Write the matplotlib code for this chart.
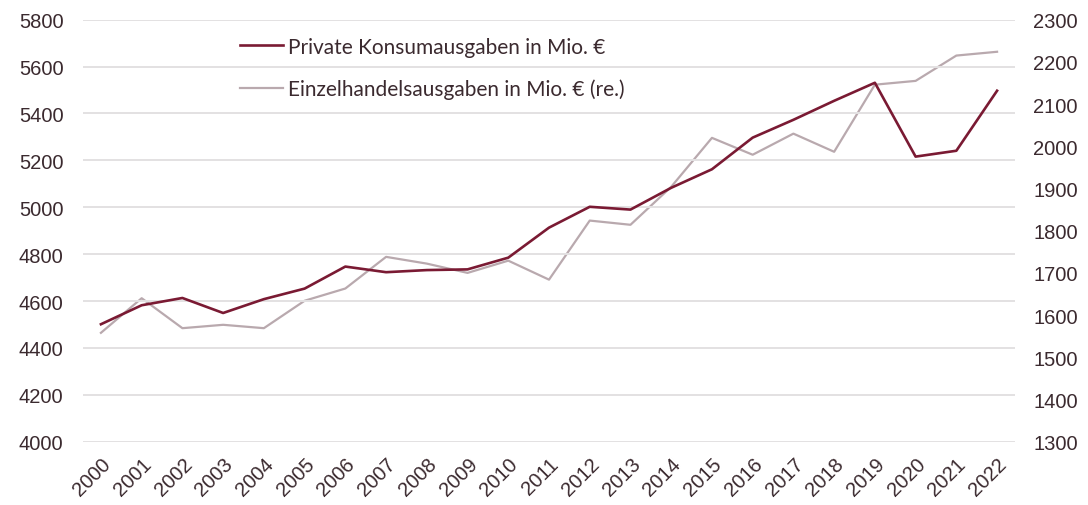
import matplotlib
matplotlib.use("Agg")
import matplotlib.pyplot as plt
import numpy as np

years = [str(y) for y in range(2000, 2023)]
konsum = [4501, 4582, 4613, 4549, 4608, 4653, 4747, 4723, 4732, 4735, 4785,
          4913, 5002, 4990, 5083, 5162, 5297, 5373, 5454, 5531, 5216, 5241, 5497]
einzel = [1558, 1640, 1569, 1577, 1569, 1634, 1663, 1738, 1722, 1700, 1729,
          1684, 1824, 1814, 1904, 2020, 1980, 2030, 1987, 2146, 2155, 2215, 2224]

red = "#7a1a33"
grey = "#b9a9ae"
txt = "#3b2a2f"

plt.rcParams['font.family'] = ['Liberation Sans', 'DejaVu Sans']

fig = plt.figure(figsize=(10.88, 5.06), dpi=100)
ax = fig.add_axes([0.0763, 0.1251, 0.8566, 0.834])
ax2 = ax.twinx()

x = np.arange(len(years))
l1, = ax.plot(x, konsum, color=red, lw=1.9, zorder=3)
l2, = ax2.plot(x, einzel, color=grey, lw=1.6, zorder=2)
ax.set_zorder(ax2.get_zorder() + 1)
ax.patch.set_visible(False)

ax.set_xlim(-0.44, 22.44)
ax.set_ylim(4000, 5800)
ax.set_yticks(np.arange(4000, 5801, 200))
ax2.set_ylim(1300, 2300)
ax2.set_yticks(np.arange(1300, 2301, 100))

ax.set_xticks(x)
ax.set_xticklabels(years, rotation=45, ha='right', rotation_mode='anchor')

ax.grid(axis='y', color='#e3e1e2', lw=1.4)
ax.set_axisbelow(True)
for a in (ax, ax2):
    for s in a.spines.values():
        s.set_visible(False)
    a.tick_params(length=0, labelsize=14.5, colors=txt)
ax.tick_params(axis='y', pad=14)
ax.tick_params(axis='x', pad=9)
ax2.tick_params(axis='y', pad=13)

leg = ax.legend([l1, l2], ["Private Konsumausgaben in Mio. €",
                           "Einzelhandelsausgaben in Mio. € (re.)"],
                loc='upper left', bbox_to_anchor=(0.148, 1.004), frameon=False,
                handlelength=2.1, handletextpad=0.2, labelspacing=1.05,
                prop={'family': 'Lato', 'size': 15})
for t in leg.get_texts():
    t.set_color(txt)

fig.savefig("out.png", dpi=100)
